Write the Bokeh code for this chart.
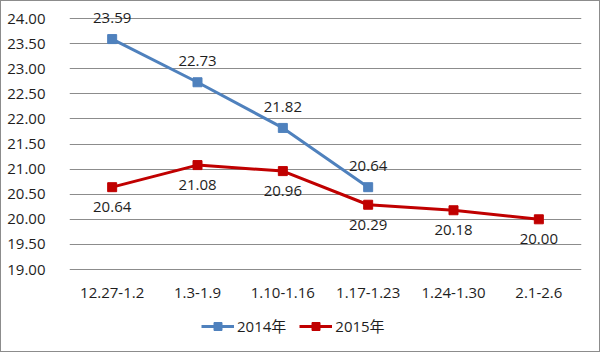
from bokeh.plotting import figure
from bokeh.models import ColumnDataSource, Legend, LegendItem, FixedTicker, Range1d, NumeralTickFormatter
from bokeh.core.properties import value
from bokeh.embed import file_html
from bokeh.resources import INLINE

categories = ["12.27-1.2", "1.3-1.9", "1.10-1.16", "1.17-1.23", "1.24-1.30", "2.1-2.6"]
cats2014 = ["12.27-1.2", "1.3-1.9", "1.10-1.16", "1.17-1.23"]
vals2014 = [23.59, 22.73, 21.82, 20.64]
vals2015 = [20.64, 21.08, 20.96, 20.29, 20.18, 20.00]
labels2014 = ["23.59", "22.73", "21.82", "20.64"]
labels2015 = ["20.64", "21.08", "20.96", "20.29", "20.18", "20.00"]
y_ticks = [19.0, 19.5, 20.0, 20.5, 21.0, 21.5, 22.0, 22.5, 23.0, 23.5, 24.0]
series_names = ["2014年", "2015年"]
y_min, y_max = 19.0, 24.0

BLUE = "#4F81BD"
RED = "#C00000"
FONT = "Open Sans"
TXT = "#1e1e1e"

# pixel layout: 24.00 gridline at y=17, 19.00 gridline at y=268
AXIS_TOP, AXIS_BOTTOM = 17, 268
FRAME_TOP, FRAME_BOTTOM = 3, 346
px_per_unit = (AXIS_BOTTOM - AXIS_TOP) / (y_max - y_min)
y_start = y_min - (FRAME_BOTTOM - AXIS_BOTTOM) / px_per_unit
y_end = y_max + (AXIS_TOP - FRAME_TOP) / px_per_unit

p = figure(x_range=categories, width=600, height=352, output_backend="svg",
           toolbar_location=None, min_border_left=68, min_border_right=20,
           min_border_top=FRAME_TOP, min_border_bottom=352 - FRAME_BOTTOM)
p.y_range = Range1d(y_start, y_end)
p.styles = {"border": "1px solid #8c8c8c", "box-sizing": "border-box"}
p.outline_line_color = None
p.background_fill_color = "white"
p.border_fill_color = "white"

s14 = ColumnDataSource(dict(x=cats2014, y=vals2014, t=labels2014))
s15 = ColumnDataSource(dict(x=categories, y=vals2015, t=labels2015))

l14 = p.line("x", "y", source=s14, color=BLUE, line_width=3)
m14 = p.scatter("x", "y", source=s14, marker="square", size=9, color=BLUE)
l15 = p.line("x", "y", source=s15, color=RED, line_width=3)
m15 = p.scatter("x", "y", source=s15, marker="square", size=9, color=RED)

p.text("x", "y", text="t", source=s14, y_offset=-16, text_align="center",
       text_baseline="bottom", text_font=value(FONT), text_font_size="15px",
       text_color=TXT)
p.text("x", "y", text="t", source=s15, y_offset=15, text_align="center",
       text_baseline="top", text_font=value(FONT), text_font_size="15px",
       text_color=TXT)

p.yaxis.ticker = FixedTicker(ticks=y_ticks)
p.yaxis.formatter = NumeralTickFormatter(format="0.00")
for ax in (p.xaxis[0], p.yaxis[0]):
    ax.axis_line_color = None
    ax.major_tick_line_color = None
    ax.minor_tick_line_color = None
    ax.major_label_text_font = FONT
    ax.major_label_text_font_size = "15px"
    ax.major_label_text_color = TXT
p.yaxis.major_label_standoff = 18
p.xaxis.major_label_standoff = 12
p.xaxis.fixed_location = y_min

p.xgrid.grid_line_color = None
p.ygrid.grid_line_color = "#8c8c8c"
p.ygrid.grid_line_width = 1

legend = Legend(items=[LegendItem(label=series_names[0], renderers=[l14, m14]),
                       LegendItem(label=series_names[1], renderers=[l15, m15])],
                orientation="horizontal", location=(132, 11),
                label_text_font="Open Sans, Noto Sans CJK SC",
                label_text_font_size="15px",
                label_text_color=TXT, border_line_color=None,
                background_fill_alpha=0, glyph_width=33, spacing=13,
                label_standoff=3, padding=0, margin=0)
p.add_layout(legend, "center")

open("out.html", "w").write(file_html(p, INLINE))
